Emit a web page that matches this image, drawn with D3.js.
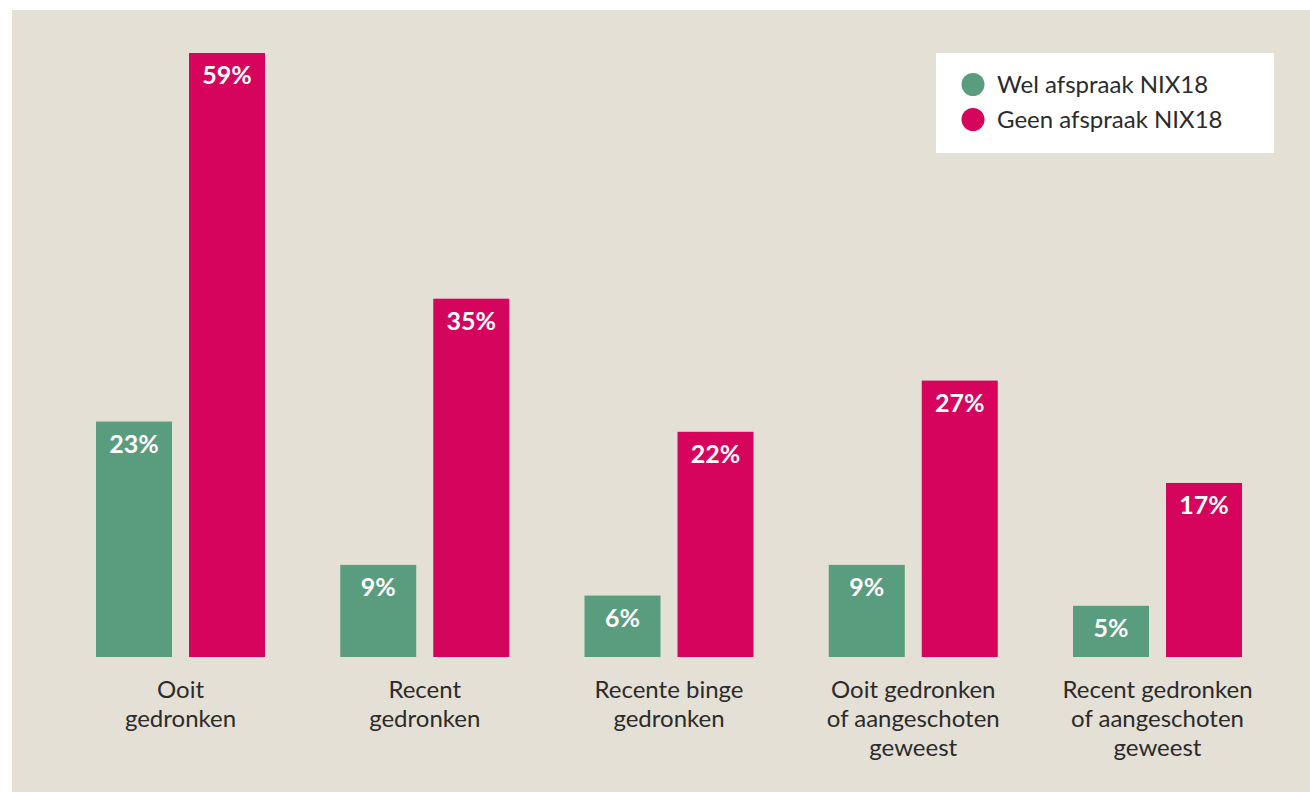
<!DOCTYPE html>
<html>
<head>
<meta charset="utf-8">
<script src="https://cdn.jsdelivr.net/npm/d3@7"></script>
<style>
  body { margin: 0; background: #fff; }
  svg { display: block; font-family: Lato, "Open Sans", sans-serif; }
</style>
</head>
<body>
<div class="chart"></div>
<script>
const WIDTH = 1310;
const HEIGHT = 792;

// data
var categories = [
    ["Ooit", "gedronken"],
    ["Recent", "gedronken"],
    ["Recente binge", "gedronken"],
    ["Ooit gedronken", "of aangeschoten", "geweest"],
    ["Recent gedronken", "of aangeschoten", "geweest"]
];
var series = ["Wel afspraak NIX18", "Geen afspraak NIX18"];
var welValues = [23, 9, 6, 9, 5];
var geenValues = [59, 35, 22, 27, 17];
var colors = ["#5a9c7e", "#d6045c"];

var catKeys = categories.map(function (c) { return c.join(" "); });
var valuesBySeries = [welValues, geenValues];

var translate = function (x, y) {
    return "translate(" + x + "," + y + ")";
};

var svg = d3.select('.chart').append('svg')
    .attr('width', WIDTH)
    .attr('height', HEIGHT);

svg.append('rect')
    .attr('x', 12).attr('y', 10)
    .attr('width', WIDTH - 12).attr('height', HEIGHT - 10)
    .attr('fill', '#e4e0d5');

var step = 244.25;
var start = 180.5 - step / 2;

var x0 = d3.scaleBand()
    .domain(catKeys)
    .range([start, start + step * catKeys.length])
    .paddingInner(1 - 169 / step)
    .paddingOuter((1 - 169 / step) / 2);

var x1 = d3.scaleBand()
    .domain(series)
    .range([0, x0.bandwidth()])
    .paddingInner(17 / 93)
    .paddingOuter(0);

var y = d3.scaleLinear()
    .domain([0, 59])
    .range([657, 53]);

// bars
var groups = svg.append('g').selectAll('g')
    .data(catKeys)
    .enter().append('g')
    .attr('transform', function (d) { return translate(x0(d), 0); });

var barData = function (d, i) {
    return series.map(function (s, j) { return {s: s, j: j, v: valuesBySeries[j][i]}; });
};

groups.selectAll('rect')
    .data(barData)
    .enter().append('rect')
    .attr('x', function (q) { return x1(q.s); })
    .attr('y', function (q) { return y(q.v); })
    .attr('width', x1.bandwidth())
    .attr('height', function (q) { return y(0) - y(q.v); })
    .attr('fill', function (q) { return colors[q.j]; });

groups.selectAll('text.val')
    .data(barData)
    .enter().append('text')
    .attr('class', 'val')
    .attr('x', function (q) { return x1(q.s) + x1.bandwidth() / 2; })
    .attr('y', function (q) { return y(q.v) + 31; })
    .attr('text-anchor', 'middle')
    .attr('fill', '#fff')
    .attr('font-weight', 'bold')
    .attr('font-size', '25px')
    .text(function (q) { return q.v + "%"; });

// category axis
var xAxis = d3.axisBottom(x0).tickSize(0).tickPadding(0);
var axisG = svg.append('g')
    .attr('transform', translate(0, y(0)))
    .call(xAxis)
    .attr('font-family', null)
    .attr('font-size', '24px');
axisG.select('.domain').remove();
axisG.selectAll('.tick text').each(function (d, i) {
    var t = d3.select(this).text(null).attr('y', 0).attr('dy', null)
        .attr('fill', '#2b2b2b');
    categories[i].forEach(function (line, k) {
        t.append('tspan')
            .attr('x', 0)
            .attr('y', 41 + k * 29)
            .text(line);
    });
});

// legend
var legend = svg.append('g').attr('transform', translate(936, 53));
legend.append('rect')
    .attr('width', 338).attr('height', 100)
    .attr('fill', '#fff');
series.forEach(function (s, j) {
    legend.append('circle')
        .attr('cx', 37).attr('cy', 31.5 + j * 35)
        .attr('r', 11.5)
        .attr('fill', colors[j]);
    legend.append('text')
        .attr('x', 61).attr('y', 40 + j * 35)
        .attr('fill', '#2b2b2b')
        .attr('font-size', '24px')
        .text(s);
});
</script>
</body>
</html>
